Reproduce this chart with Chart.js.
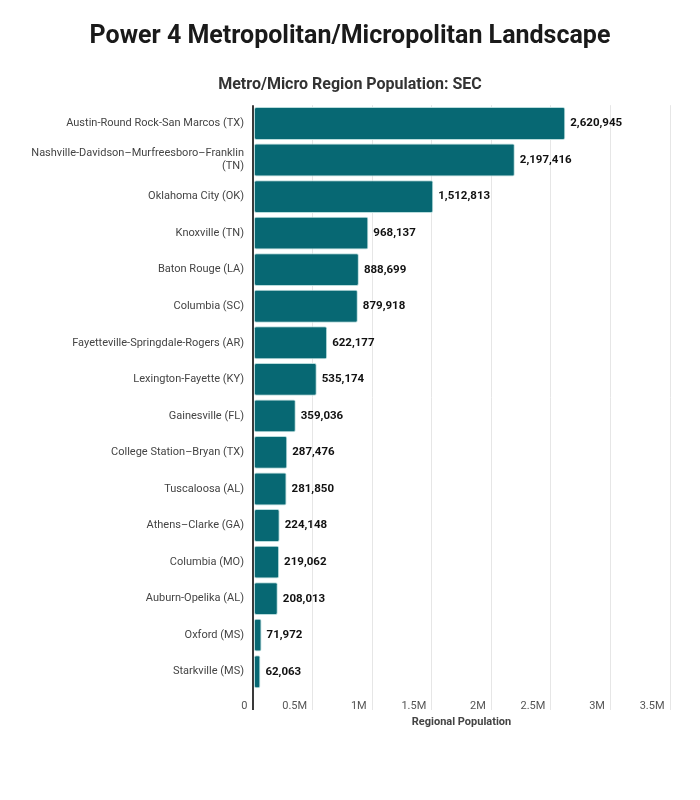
<!DOCTYPE html>
<html>
<head>
<meta charset="utf-8">
<script src="https://cdn.jsdelivr.net/npm/chart.js@4"></script>
<style>
  body { margin: 0; background: #fff; }
  #wrap { width: 700px; height: 800px; }
</style>
</head>
<body>
<div id="wrap"><canvas id="popChart" width="700" height="800"></canvas></div>
<script>
// Datos
const regions = [
  'Austin-Round Rock-San Marcos (TX)',
  ['Nashville-Davidson\u2013Murfreesboro\u2013Franklin', '(TN)'],
  'Oklahoma City (OK)',
  'Knoxville (TN)',
  'Baton Rouge (LA)',
  'Columbia (SC)',
  'Fayetteville-Springdale-Rogers (AR)',
  'Lexington-Fayette (KY)',
  'Gainesville (FL)',
  'College Station\u2013Bryan (TX)',
  'Tuscaloosa (AL)',
  'Athens\u2013Clarke (GA)',
  'Columbia (MO)',
  'Auburn-Opelika (AL)',
  'Oxford (MS)',
  'Starkville (MS)'
];
const population = [
  2620945, 2197416, 1512813, 968137, 888699, 879918, 622177, 535174,
  359036, 287476, 281850, 224148, 219062, 208013, 71972, 62063
];
const xTickLabels = ['0', '0.5M', '1M', '1.5M', '2M', '2.5M', '3M', '3.5M'];

Chart.defaults.font.family = 'Roboto, "Noto Sans", sans-serif';

// Etiquetas de valor al final de cada barra
const valueLabels = {
  id: 'valueLabels',
  afterDatasetsDraw(chart) {
    const ctx = chart.ctx;
    const meta = chart.getDatasetMeta(0);
    ctx.save();
    ctx.font = 'bold 11.5px Roboto, sans-serif';
    ctx.fillStyle = '#111';
    ctx.textAlign = 'left';
    ctx.textBaseline = 'middle';
    meta.data.forEach((bar, i) => {
      ctx.fillText(population[i].toLocaleString('en-US'), bar.x + 5, bar.y);
    });
    ctx.restore();
  }
};

const ctx = document.getElementById('popChart').getContext('2d');
const popChart = new Chart(ctx, {
  type: 'bar',
  data: {
    labels: regions,
    datasets: [{
      data: population,
      backgroundColor: '#076873',
      borderColor: '#b9dcdc',
      borderWidth: 1,
      borderRadius: 2,
      borderSkipped: false,
      barPercentage: 0.9,
      categoryPercentage: 1
    }]
  },
  options: {
    indexAxis: 'y',
    responsive: false,
    animation: false,
    layout: { padding: { left: 30, right: 30, top: 0, bottom: 70 } },
    plugins: {
      legend: { display: false },
      tooltip: { enabled: false },
      title: {
        display: true,
        text: 'Power 4 Metropolitan/Micropolitan Landscape',
        color: '#1a1a1a',
        font: { size: 25, weight: 'bold' },
        padding: { top: 22, bottom: 23 }
      },
      subtitle: {
        display: true,
        text: 'Metro/Micro Region Population: SEC',
        color: '#333',
        font: { size: 16, weight: 'bold' },
        padding: { top: 0, bottom: 11 }
      }
    },
    scales: {
      x: {
        min: 0,
        max: 3500000,
        afterFit(scale) { scale.height = 40; },
        ticks: {
          stepSize: 500000,
          autoSkip: false,
          maxRotation: 0,
          align: 'end',
          padding: -10,
          color: '#555',
          font: { size: 11 },
          callback: (v, i) => xTickLabels[i] + '  '
        },
        grid: {
          color: c => c.tick && c.tick.value === 0 ? '#3a3a3a' : '#e6e6e6',
          lineWidth: c => c.tick && c.tick.value === 0 ? 2 : 1,
          tickLength: 20
        },
        border: { display: false },
        title: {
          display: true,
          text: 'Regional Population',
          color: '#444',
          font: { size: 11, weight: 'bold' },
          padding: { top: 0, bottom: 1 }
        }
      },
      y: {
        afterFit(scale) { scale.width = 223; },
        grid: { display: false, drawTicks: false },
        border: { display: false },
        ticks: {
          color: '#444',
          font: { size: 11 },
          padding: 9
        }
      }
    }
  },
  plugins: [valueLabels]
});
</script>
</body>
</html>
